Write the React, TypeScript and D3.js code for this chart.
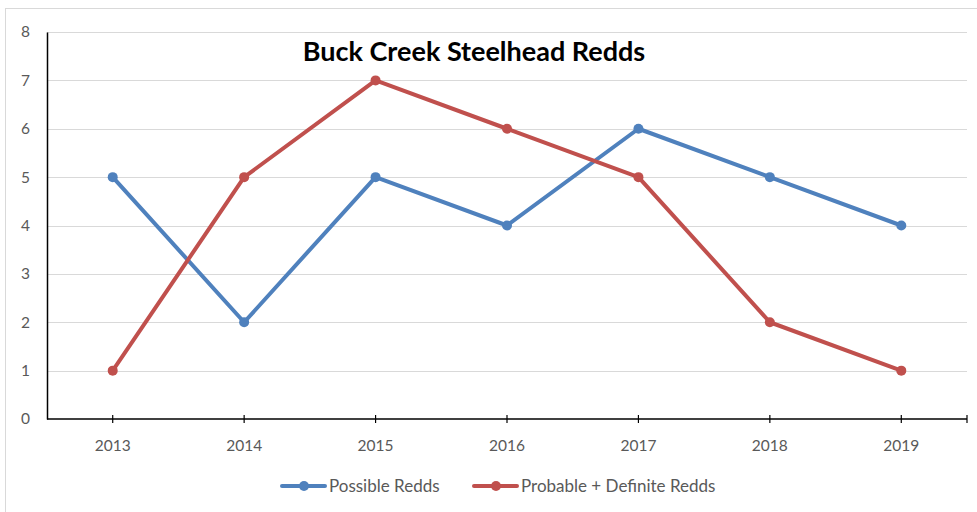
import { useRef, useEffect } from 'react';
import * as d3 from 'd3';

const years = ['2013', '2014', '2015', '2016', '2017', '2018', '2019'];
const possible = [5, 2, 5, 4, 6, 5, 4];
const probableDefinite = [1, 5, 7, 6, 5, 2, 1];
const yTicks = [0, 1, 2, 3, 4, 5, 6, 7, 8];

const series = [
  { name: 'Possible Redds', values: possible, color: '#4F81BD' },
  { name: 'Probable + Definite Redds', values: probableDefinite, color: '#C0504D' },
];

export default function App() {
  const svgRef = useRef<SVGSVGElement>(null);
  const width = 977;
  const height = 512;

  useEffect(() => {
    if (!svgRef.current) return;
    const svg = d3.select(svgRef.current);
    svg.selectAll('*').remove();

    const font = 'Lato, "Open Sans", sans-serif';
    const margin = { top: 32, right: 10, bottom: 93, left: 47 };
    const w = width - margin.left - margin.right;
    const h = height - margin.top - margin.bottom;

    // outer border
    svg.append('rect')
      .attr('x', 5.5).attr('y', 8.5)
      .attr('width', width + 10).attr('height', height + 10)
      .attr('fill', '#fff')
      .attr('stroke', '#d9d9d9');

    const g = svg.append('g').attr('transform', `translate(${margin.left},${margin.top})`);

    const x = d3.scaleBand().domain(years).range([0, w]);
    const y = d3.scaleLinear().domain([0, 8]).range([h, 0]);
    const cx = (i: number) => (x(years[i]) as number) + x.bandwidth() / 2;

    // grid
    g.append('g')
      .selectAll('line')
      .data(yTicks.filter((d) => d > 0))
      .join('line')
      .attr('x1', 0).attr('x2', w)
      .attr('y1', (d) => Math.round(y(d)) + 0.5).attr('y2', (d) => Math.round(y(d)) + 0.5)
      .attr('stroke', '#d9d9d9');

    // y axis
    const yAxis = g.append('g')
      .call(d3.axisLeft(y).tickValues(yTicks).tickSize(0).tickPadding(17).tickFormat(d3.format('d')));
    yAxis.select('.domain').attr('stroke', '#000').attr('stroke-width', 1.5);
    yAxis.selectAll('text').attr('font-family', font).attr('font-size', 15.5).attr('fill', '#595959');

    // x axis
    const xa = g.append('g').attr('transform', `translate(0,${h})`);
    xa.append('line').attr('x1', 0).attr('x2', w).attr('stroke', '#000').attr('stroke-width', 1.5);
    const tickXs = years.map((_, i) => cx(i)).concat([w]);
    xa.selectAll('line.tick')
      .data(tickXs)
      .join('line')
      .attr('class', 'tick')
      .attr('x1', (d) => d).attr('x2', (d) => d)
      .attr('y1', -4).attr('y2', 4)
      .attr('stroke', '#000').attr('stroke-width', 1.2);
    xa.selectAll('text')
      .data(years)
      .join('text')
      .attr('x', (_, i) => cx(i))
      .attr('y', 32)
      .attr('text-anchor', 'middle')
      .attr('font-family', font).attr('font-size', 15.5).attr('fill', '#595959')
      .text((d) => d);

    // lines
    const line = d3.line<number>()
      .x((_, i) => cx(i))
      .y((d) => y(d));

    series.forEach((s) => {
      g.append('path')
        .datum(s.values)
        .attr('fill', 'none')
        .attr('stroke', s.color)
        .attr('stroke-width', 4)
        .attr('stroke-linejoin', 'round')
        .attr('stroke-linecap', 'round')
        .attr('d', line);
      g.selectAll(null)
        .data(s.values)
        .join('circle')
        .attr('cx', (_, i) => cx(i))
        .attr('cy', (d) => y(d))
        .attr('r', 5)
        .attr('fill', s.color);
    });

    // title
    svg.append('text')
      .attr('x', 474).attr('y', 61)
      .attr('text-anchor', 'middle')
      .attr('font-family', font).attr('font-weight', 'bold').attr('font-size', 27)
      .attr('fill', '#000')
      .text('Buck Creek Steelhead Redds');

    // legend
    const legendX = [282, 474];
    series.forEach((s, i) => {
      const lg = svg.append('g').attr('transform', `translate(${legendX[i]},486)`);
      lg.append('line').attr('x1', 0).attr('x2', 43).attr('stroke', s.color).attr('stroke-width', 4).attr('stroke-linecap', 'round');
      lg.append('circle').attr('cx', 22).attr('r', 5).attr('fill', s.color);
      lg.append('text')
        .attr('x', 47).attr('y', 6)
        .attr('font-family', font).attr('font-size', 17).attr('fill', '#595959')
        .text(s.name);
    });
  }, []);

  return (
    <svg
      ref={svgRef}
      width={width}
      height={height}
      style={{ position: 'absolute', left: 0, top: 0, display: 'block', background: '#fff' }}
    />
  );
}
